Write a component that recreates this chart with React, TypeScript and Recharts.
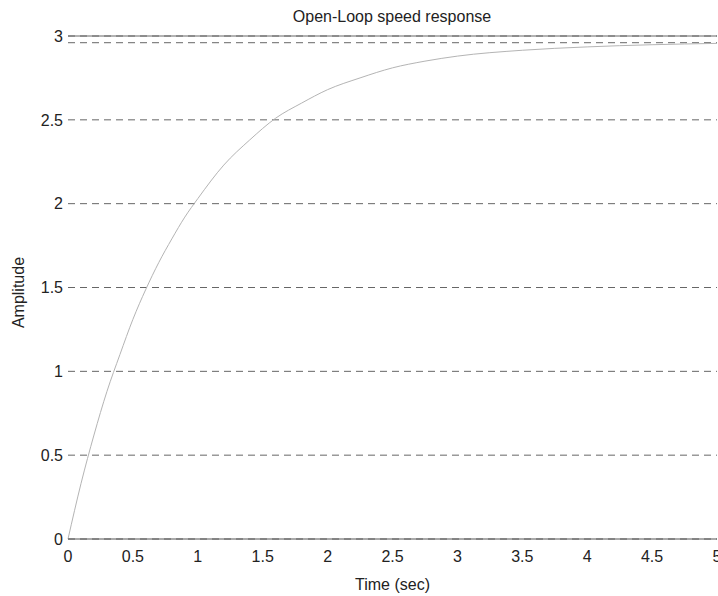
import React from "react"
import {
  LineChart,
  Line,
  XAxis,
  YAxis,
  CartesianGrid,
  ReferenceLine,
  Label,
} from "recharts"

// step response (time in sec, amplitude)
const times = [
  0, 0.1, 0.2, 0.3, 0.4, 0.5, 0.6, 0.7, 0.8, 0.9, 1.0, 1.2, 1.4, 1.6, 1.8,
  2.0, 2.25, 2.5, 2.75, 3.0, 3.5, 4.0, 4.5, 5.0,
]
const amplitude = [
  0, 0.33, 0.62, 0.88, 1.1, 1.31, 1.49, 1.65, 1.79, 1.92, 2.03, 2.23, 2.38,
  2.51, 2.6, 2.68, 2.75, 2.81, 2.85, 2.88, 2.915, 2.935, 2.948, 2.956,
]

const xTicks = [0, 0.5, 1, 1.5, 2, 2.5, 3, 3.5, 4, 4.5, 5]
const yTicks = [0, 0.5, 1, 1.5, 2, 2.5, 3]
const finalValue = 2.96

const data = times.map((t, i) => ({ t, amp: amplitude[i] }))

const font = "'Liberation Sans', Arial, sans-serif"
const tickStyle = { fontSize: 16, fill: "#222", fontFamily: font }

export default function App() {
  return (
    <div
      style={{
        position: "absolute",
        left: 0,
        top: 0,
        width: 718,
        height: 596,
        overflow: "hidden",
        background: "#fff",
      }}
    >
      <LineChart
        width={740}
        height={596}
        data={data}
        margin={{ top: 0, right: 23, bottom: 0, left: 0 }}
      >
        <text
          x={392}
          y={22}
          textAnchor="middle"
          style={{ fontSize: 16, fill: "#222", fontFamily: font }}
        >
          Open-Loop speed response
        </text>
        <CartesianGrid
          vertical={false}
          stroke="#666"
          strokeDasharray="7 5"
        />
        <XAxis
          xAxisId="top"
          orientation="top"
          dataKey="t"
          type="number"
          domain={[0, 5]}
          height={36}
          tick={false}
          tickLine={false}
          axisLine={{ stroke: "#666" }}
        />
        <XAxis
          dataKey="t"
          type="number"
          domain={[0, 5]}
          ticks={xTicks}
          height={57}
          tick={tickStyle}
          tickLine={false}
          tickMargin={6}
          axisLine={{ stroke: "#555" }}
          interval={0}
        >
          <Label
            value="Time (sec)"
            position="insideBottom"
            offset={6}
            style={{ fontSize: 16, fill: "#222", fontFamily: font }}
          />
        </XAxis>
        <YAxis
          domain={[0, 3]}
          ticks={yTicks}
          width={68}
          tick={tickStyle}
          tickLine={false}
          tickSize={5}
          tickMargin={0}
          axisLine={false}
          interval={0}
        >
          <Label
            value="Amplitude"
            angle={-90}
            position="center"
            dx={-16}
            dy={5}
            style={{ fontSize: 16, fill: "#222", fontFamily: font }}
          />
        </YAxis>
        <ReferenceLine
          y={finalValue}
          stroke="#666"
          strokeDasharray="7 5"
        />
        <Line
          dataKey="amp"
          type="monotone"
          stroke="#b4b4b4"
          strokeWidth={1}
          dot={false}
          isAnimationActive={false}
        />
      </LineChart>
    </div>
  )
}
